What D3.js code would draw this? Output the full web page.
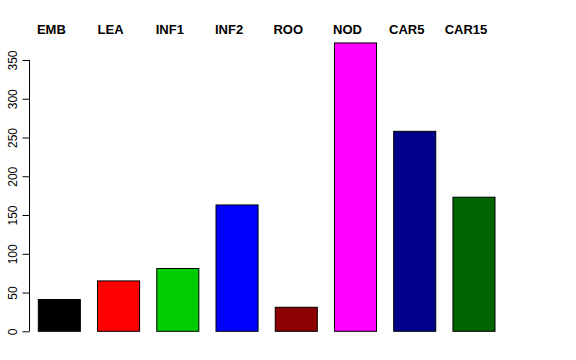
<!DOCTYPE html>
<html>
<head>
<meta charset="utf-8">
<script src="https://cdn.jsdelivr.net/npm/d3@7"></script>
<style>
  body { margin: 0; background: #fff; }
  text { font-family: "Liberation Sans", Arial, sans-serif; }
</style>
</head>
<body>
<script>
var categories = ["EMB", "LEA", "INF1", "INF2", "ROO", "NOD", "CAR5", "CAR15"];
var values = [41, 65, 81, 163, 31, 372, 258, 173];
var colors = ["#000000", "#ff0000", "#00cd00", "#0000ff", "#8b0000", "#ff00ff", "#00008b", "#006400"];
var yTicks = [0, 50, 100, 150, 200, 250, 300, 350];

var width = 576;
var height = 360;

var svg = d3.select("body")
            .append("svg")
            .attr("width", width)
            .attr("height", height);

// scales
var xScale = d3.scaleBand()
               .domain(categories)
               .range([38.3, 495])
               .paddingInner(0.29)
               .paddingOuter(0);

var yScale = d3.scaleLinear()
               .domain([0, 350])
               .range([331.3, 60]);

// y axis, R style: line only over the tick range, rotated labels
var leftAxis = d3.axisLeft(yScale)
                 .tickValues(yTicks)
                 .tickSize(7);

var axisGroup = svg.append("g")
                   .attr("transform", "translate(29.5, 0)")
                   .call(leftAxis);

axisGroup.select(".domain")
         .attr("d", `M0,${yScale(0)}V${yScale(350)}`)
         .attr("stroke", "#000");
axisGroup.selectAll(".tick line").attr("stroke", "#000");
axisGroup.selectAll(".tick text")
         .attr("transform", "rotate(-90)")
         .attr("x", 0)
         .attr("y", -13)
         .attr("dy", "0")
         .style("text-anchor", "middle")
         .style("font-size", "12px")
         .style("font-family", "Liberation Sans, Arial, sans-serif")
         .attr("fill", "#000");

// bars
svg.selectAll("rect.bar")
   .data(values)
   .enter()
   .append("rect")
   .attr("class", "bar")
   .attr("x", function(d, i) { return xScale(categories[i]); })
   .attr("y", function(d) { return yScale(d); })
   .attr("width", xScale.bandwidth())
   .attr("height", function(d) { return yScale(0) - yScale(d); })
   .attr("fill", function(d, i) { return colors[i]; })
   .attr("stroke", "#000")
   .attr("stroke-width", 1);

// category labels along the top
svg.selectAll("text.lab")
   .data(categories)
   .enter()
   .append("text")
   .attr("class", "lab")
   .attr("x", function(d) { return xScale(d) + xScale.bandwidth() / 2 - 8; })
   .attr("y", 34)
   .attr("text-anchor", "middle")
   .style("font-size", "13px")
   .style("font-weight", "bold")
   .text(function(d) { return d; });
</script>
</body>
</html>
